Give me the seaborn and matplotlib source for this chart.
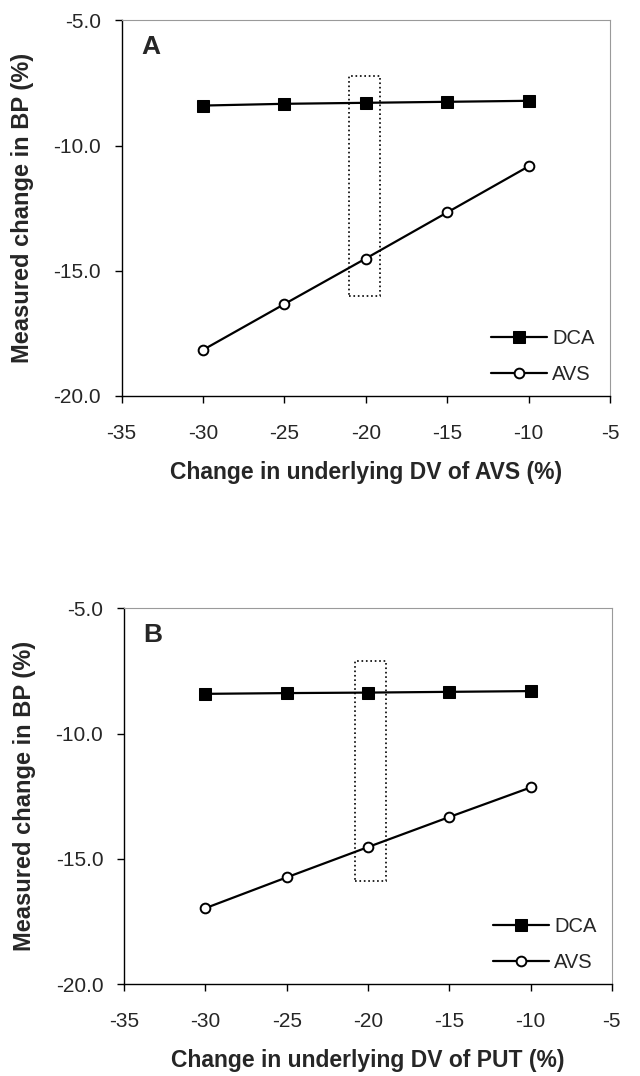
import matplotlib
matplotlib.use("Agg")
import matplotlib.pyplot as plt
import seaborn as sns
from matplotlib.patches import Rectangle
from matplotlib.ticker import FormatStrFormatter

sns.set_style("ticks")
plt.rcParams['font.family'] = ['Liberation Sans', 'DejaVu Sans']
plt.rcParams['axes.unicode_minus'] = False

# data
x_change = [-30, -25, -20, -15, -10]
dca_avs = [-8.40, -8.33, -8.29, -8.25, -8.21]
avs_avs = [-18.16, -16.33, -14.51, -12.67, -10.83]
dca_put = [-8.41, -8.38, -8.36, -8.33, -8.30]
avs_put = [-16.97, -15.74, -14.53, -13.33, -12.15]
panel_labels = ['A', 'B']
x_titles = ['Change in underlying DV of AVS (%)', 'Change in underlying DV of PUT (%)']
y_title = 'Measured change in BP (%)'
# dotted box around the -20% point
box_x = [[-21.0, -19.1], [-20.8, -18.9]]
box_y = [[-16.0, -7.2], [-15.9, -7.1]]

fig = plt.figure(figsize=(6.4, 10.76), dpi=100)
positions = [[0.190, 0.632, 0.763, 0.349], [0.194, 0.0855, 0.762, 0.349]]
dca_all = [dca_avs, dca_put]
avs_all = [avs_avs, avs_put]

for i in range(2):
    ax = fig.add_axes(positions[i])
    sns.lineplot(x=x_change, y=dca_all[i], ax=ax, color='black', linewidth=1.6,
                 marker='s', markersize=9, markerfacecolor='black',
                 markeredgecolor='black', label='DCA')
    sns.lineplot(x=x_change, y=avs_all[i], ax=ax, color='black', linewidth=1.6,
                 marker='o', markersize=7, markerfacecolor='white',
                 markeredgecolor='black', markeredgewidth=1.4, label='AVS')
    bx = box_x[i]
    by = box_y[i]
    ax.add_patch(Rectangle((bx[0], by[0]), bx[1] - bx[0], by[1] - by[0],
                           fill=False, linestyle=':', linewidth=1.2, edgecolor='black'))

    ax.set_xlim(-35, -5)
    ax.set_ylim(-20, -5)
    ax.set_xticks(range(-35, 0, 5))
    ax.set_yticks([-20, -15, -10, -5])
    ax.yaxis.set_major_formatter(FormatStrFormatter('%.1f'))
    ax.tick_params(axis='both', direction='out', length=5, width=1, labelsize=15, color='black')
    ax.tick_params(axis='x', pad=15)
    ax.tick_params(axis='y', pad=10)

    for s in ['left', 'bottom']:
        ax.spines[s].set_color('black')
        ax.spines[s].set_linewidth(1.0)
    for s in ['top', 'right']:
        ax.spines[s].set_visible(True)
        ax.spines[s].set_color('#9a9a9a')
        ax.spines[s].set_linewidth(0.8)

    ax.set_xlabel(x_titles[i], fontsize=16.5, fontweight='bold', labelpad=13)
    ax.set_ylabel(y_title, fontsize=17, fontweight='bold', labelpad=14)
    ax.text(0.04, 0.96, panel_labels[i], transform=ax.transAxes, fontsize=19,
            fontweight='bold', va='top', ha='left')

    ax.legend(loc='lower right', frameon=False, fontsize=14.5, handlelength=2.8,
              handletextpad=0.25, labelspacing=0.85, borderaxespad=0.0,
              bbox_to_anchor=(0.985, 0.01))

fig.savefig('out.png', dpi=100)
